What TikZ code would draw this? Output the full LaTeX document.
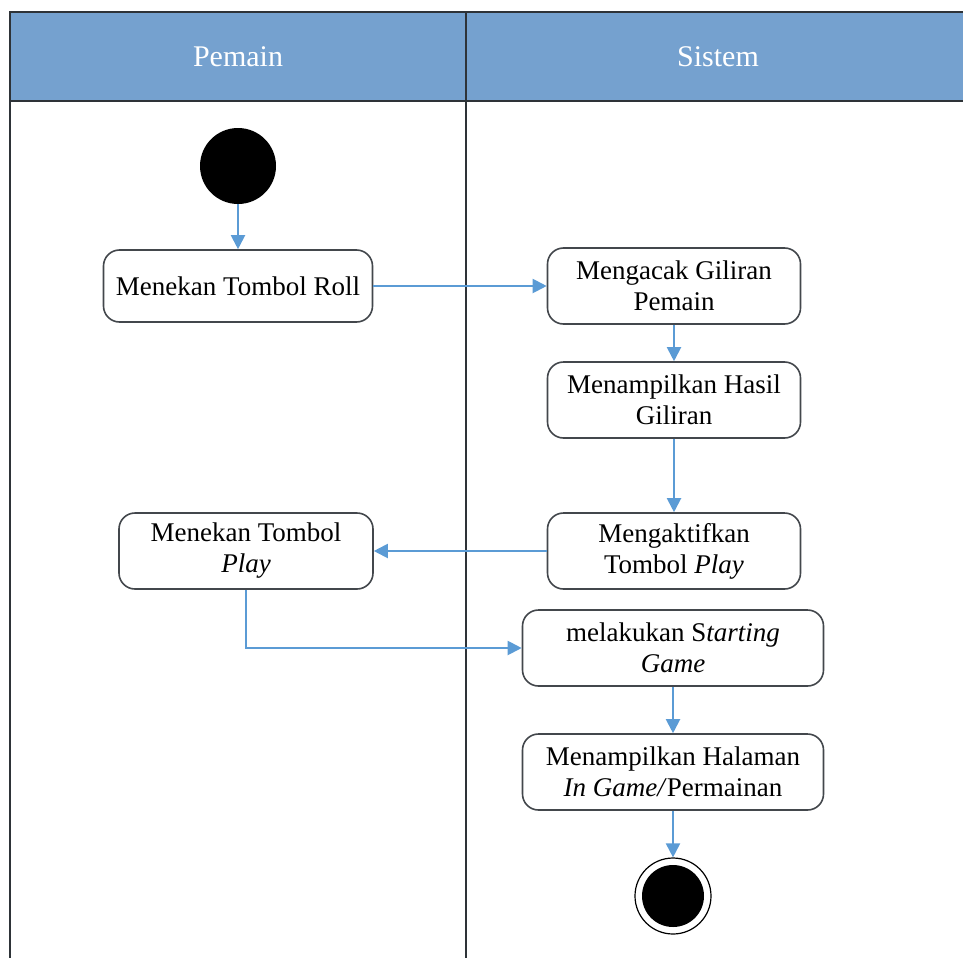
\documentclass[tikz,border=0pt]{standalone}
\usepackage{fontspec}
\setmainfont{Liberation Serif}
\usetikzlibrary{arrows.meta}
\definecolor{lanehead}{HTML}{75A1CF}
\definecolor{flow}{HTML}{5B9BD5}
\definecolor{frame}{HTML}{2E3338}
\tikzset{
  activity/.style={draw=frame!90, line width=1.6pt, rounded corners=16pt, fill=white,
    minimum height=76pt, align=center, inner sep=0pt,
    font=\fontsize{27}{31}\selectfont},
  flowarrow/.style={draw=flow, line width=2pt, -{Triangle[length=14pt,width=14pt]}},
  headtext/.style={text=white, font=\fontsize{30}{34}\selectfont},
  laneline/.style={draw=frame, line width=2pt}
}
\begin{document}
\begin{tikzpicture}[x=1pt,y=-1pt]
\useasboundingbox (0,0) rectangle (963,958);
% swimlane header and frame
\fill[lanehead] (10,12) rectangle (963,101);
\draw[laneline] (963,12) -- (10,12) -- (10,958);
\draw[laneline] (10,101) -- (963,101);
\draw[laneline] (466,12) -- (466,958);
\node[headtext] (hpemain) at (238,57) {Pemain};
\node[headtext] (hsistem) at (718,57) {Sistem};
% start and end
\node[circle, fill=black, minimum size=76pt, inner sep=0pt] (start) at (238,166) {};
\node[circle, draw=black, line width=1.2pt, minimum size=76pt, inner sep=0pt] (endring) at (673,896) {};
\node[circle, fill=black, minimum size=62pt, inner sep=0pt] (enddot) at (673,896) {};
% activities
\node[activity, minimum width=269pt, minimum height=72pt] (roll) at (238,286) {Menekan Tombol Roll};
\node[activity, minimum width=253pt] (acak) at (674,286) {Mengacak Giliran\\Pemain};
\node[activity, minimum width=253pt] (hasil) at (674,400) {Menampilkan Hasil\\Giliran};
\node[activity, minimum width=253pt] (aktif) at (674,551) {Mengaktifkan\\Tombol \textit{Play}};
\node[activity, minimum width=254pt] (play) at (246,551) {Menekan Tombol\\\textit{Play}};
\node[activity, minimum width=301pt] (starting) at (673,648) {melakukan S\textit{tarting}\\\textit{Game}};
\node[activity, minimum width=301pt] (ingame) at (673,772) {Menampilkan Halaman\\\textit{In Game/}Permainan};
% control flow
\draw[flowarrow] (start) -- (roll);
\draw[flowarrow] (roll) -- (acak);
\draw[flowarrow] (acak) -- (hasil);
\draw[flowarrow] (hasil) -- (aktif);
\draw[flowarrow] (aktif) -- (play);
\draw[flowarrow] (play.south) |- (starting.west);
\draw[flowarrow] (starting) -- (ingame);
\draw[flowarrow] (ingame) -- (endring);
\end{tikzpicture}
\end{document}
